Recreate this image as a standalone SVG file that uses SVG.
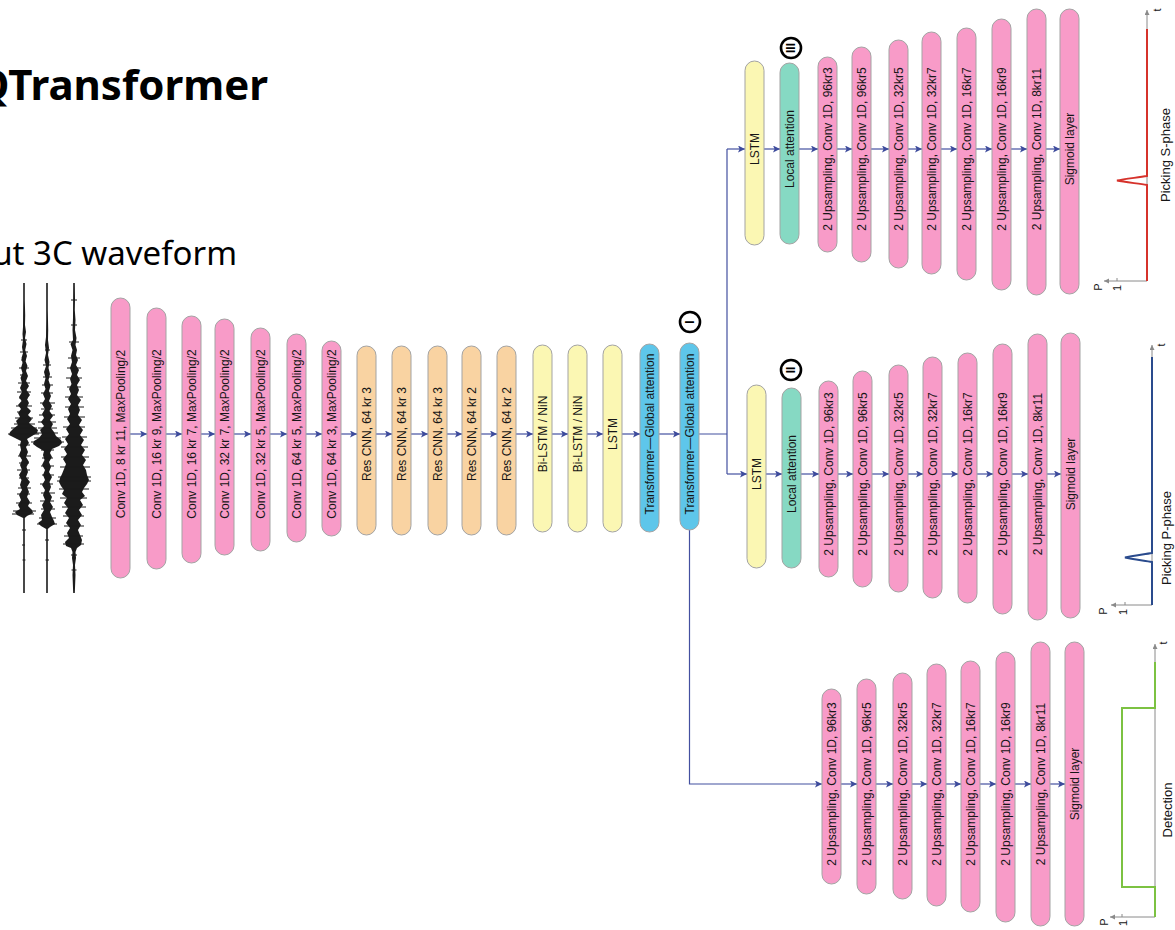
<svg xmlns="http://www.w3.org/2000/svg" width="1175" height="930" viewBox="0 0 1175 930">
  <defs>
    <marker id="arr" markerUnits="userSpaceOnUse" markerWidth="8" markerHeight="8" refX="7" refY="3.5" orient="auto">
      <path d="M0,0 L7,3.5 L0,7 L1.6,3.5 z" fill="#3d4b9c"/>
    </marker>
    <marker id="garr" markerUnits="userSpaceOnUse" markerWidth="6" markerHeight="6" refX="5" refY="2.5" orient="auto">
      <path d="M0,0 L5,2.5 L0,5 z" fill="#8a8a8a"/>
    </marker>
  </defs>
  <style>
    .pill{stroke:#a3a3a3;stroke-width:1}
    .pink{fill:#f89bc8}
    .peach{fill:#f9d3a2}
    .yellow{fill:#fbf7b3}
    .blue{fill:#5ec6ea}
    .teal{fill:#86d9c3}
    .lbl{font-family:"Liberation Sans",Arial,sans-serif;font-size:12px;fill:#161616;text-anchor:middle;dominant-baseline:central}
    .cap{font-family:"Liberation Sans",Arial,sans-serif;font-size:13px;fill:#161616;text-anchor:middle;dominant-baseline:central}
    .ax{font-family:"Liberation Sans",Arial,sans-serif;font-size:11px;fill:#161616;text-anchor:middle;dominant-baseline:central}
    .conn{fill:none;stroke:#4350a0;stroke-width:1.2}
    .axis{fill:none;stroke:#8a8a8a;stroke-width:1}
    .ring{fill:#fff;stroke:#000;stroke-width:2.6}
    .roman{font-family:"Liberation Sans",Arial,sans-serif;font-size:12px;font-weight:bold;fill:#000;text-anchor:middle;dominant-baseline:central}
    .wave{fill:#1b1b1b}
    .spk{fill:none;stroke:#1b1b1b;stroke-width:1}
  </style>

  <rect width="1175" height="930" fill="#fff"/>

  <!-- title and input caption -->
  <g id="title">
    <text x="268" y="100" font-family="'Noto Sans',sans-serif" font-weight="700" font-size="42" text-anchor="end" fill="#000">EQTransformer</text>
    <text x="237" y="265" font-family="'Noto Sans',sans-serif" font-size="33" text-anchor="end" fill="#000">Input 3C waveform</text>
  </g>

  <!-- three-component seismogram: envelope bodies plus amplitude spikes -->
  <g id="waveform">
    <path class="wave" d="M24.8,283 L24.8,300 L25.2,315 L25,325 L26,332 L25,338 L26.5,344 L25.2,350 L27,356 L25.5,361 L27.5,366 L26,371 L28,376 L26,381 L29,386 L26.5,390 L30,395 L27,399 L29,403 L27,407 L31,411 L28,415 L32,419 L29,423 L34,427 L38,430 L37,433 L32,436 L27,439 L29,443 L26,447 L28,452 L26,457 L29,462 L26.5,467 L28,472 L26,477 L30,482 L27,487 L29,492 L27,497 L30,502 L28,506 L32,510 L33,513 L27,516 L24.8,518 L24.8,593 L23.2,593 L23.2,518 L17,515 L15,512 L20,509 L18,505 L21,500 L19,495 L22,490 L20,485 L21.5,480 L19,475 L22,470 L20,465 L22,460 L19,455 L21,450 L20,445 L21,441 L15,438 L9,435 L10,432 L13,429 L18,425 L16,421 L20,417 L18,413 L21,409 L18,405 L21.5,401 L19,397 L22,392 L20,388 L22,383 L20.5,378 L22.5,373 L21,368 L22.5,363 L21.5,358 L23,353 L22,347 L23,340 L22.5,334 L23,327 L23.2,300 L23.2,283 Z"/>
    <path class="spk" d="M21,340H27M20,352H28M21,360H26M19,368H29M20,375H27M18,383H30M17,392H31M19,398H28M16,406H32M17,412H30M15,418H33M14,424H35M11,428H37M8,434H39M18,445H30M18,456H31M19,463H29M17,470H30M19,478H29M18,488H31M17,494H30M16,503H32M13,511H36M12,514H34M22,530H26M22,545H25M22.5,560H25.5"/>
    <path class="wave" d="M47.8,283 L47.8,310 L48.2,330 L48,340 L49,348 L48,355 L49.5,362 L48.5,368 L50,374 L48.5,380 L50.5,386 L49,391 L51,396 L49,401 L52,406 L49.5,411 L53,416 L50,420 L53,424 L51,428 L54,432 L56,436 L61,440 L62,443 L59,446 L52,449 L50,453 L52,457 L49,462 L51,467 L49,472 L52,477 L49.5,482 L51,487 L49,492 L52,497 L50,502 L53,507 L50,512 L52,517 L54,521 L55,524 L50,527 L47.8,529 L47.8,593 L46.2,593 L46.2,529 L41,526 L38,523 L42,520 L41,515 L44,510 L42,505 L45,500 L43,495 L45,490 L42,485 L45,480 L43,475 L45,470 L42,465 L44.5,460 L43,455 L44,451 L37,447 L33,444 L34,441 L39,438 L42,434 L40,430 L44,426 L41,422 L44,418 L42,414 L45,409 L42,404 L45,399 L43,394 L45.5,389 L44,384 L45.5,378 L44,372 L46,366 L44.5,360 L46,353 L45,345 L46,337 L46.2,320 L46.2,283 Z"/>
    <path class="spk" d="M45,350H50M43,365H51M43,377H52M42,385H53M41,393H53M40,403H55M41,409H53M39,415H55M38,422H56M38,428H57M36,433H58M34,438H61M31,442H64M41,450H54M42,458H53M41,466H54M42,475H54M40,484H53M41,493H55M40,501H54M41,509H55M39,518H56M37,524H57M45,540H49M45.5,560H49"/>
    <path class="wave" d="M74.8,283 L75,300 L74.8,310 L75.5,320 L75,330 L76.5,338 L75.5,345 L77,350 L76,355 L78,360 L76,365 L79,370 L77,375 L80,380 L77,385 L79,390 L77,395 L81,400 L78,405 L80,410 L78,415 L82,420 L79,425 L83,430 L80,435 L84,440 L81,445 L85,450 L82,455 L86,460 L83,465 L86,470 L87,475 L89,480 L87,484 L84,488 L82,492 L85,496 L80,500 L83,505 L79,510 L82,515 L78,520 L81,525 L78,530 L80,535 L82,540 L81,545 L77,548 L75.5,552 L76,558 L75,565 L75.5,575 L74.8,593 L73.2,593 L72.5,575 L73,565 L72,558 L72.5,552 L71,548 L66,546 L65,542 L69,538 L67,533 L70,528 L66,523 L69,518 L65,513 L68,508 L64,503 L67,498 L62,494 L64,490 L61,486 L59,482 L60,478 L62,474 L64,469 L66,464 L63,459 L67,454 L64,449 L68,444 L65,439 L69,434 L66,429 L70,424 L67,419 L70,414 L68,409 L71,404 L68,399 L71,394 L69,389 L71.5,384 L70,379 L72,374 L70,368 L72,362 L71,356 L72.5,350 L70.5,344 L73,340 L72.5,330 L73,318 L73.2,283 Z"/>
    <path class="spk" d="M71,300H77M71,325H77M69,342H79M68,358H80M67,368H81M66,378H82M67,387H81M65,397H83M65,407H84M64,417H85M63,427H85M62,437H87M61,447H88M61,457H89M60,467H90M58,477H91M57,481H91M59,489H89M60,498H87M62,507H86M63,516H84M64,526H84M64,536H83M63,544H84M71,555H77M71.5,570H76.5"/>
  </g>

  <!-- connectors -->
  <g id="connectors">
    <g class="conn" marker-end="url(#arr)">
      <path d="M130,434 H147"/>
      <path d="M166,434 H182"/>
      <path d="M201,434 H215"/>
      <path d="M234,434 H251"/>
      <path d="M270,434 H287"/>
      <path d="M306,434 H322"/>
      <path d="M341,434 H357"/>
      <path d="M376,434 H392"/>
      <path d="M411,434 H428"/>
      <path d="M447,434 H462"/>
      <path d="M481,434 H497"/>
      <path d="M516,434 H533"/>
      <path d="M552,434 H568"/>
      <path d="M587,434 H603"/>
      <path d="M622,434 H640"/>
      <path d="M659,434 H680"/>
      <!-- branch feeds -->
      <path d="M727,149 H745"/>
      <path d="M727,474 H747"/>
      <path d="M689.5,530 V784 H822"/>
      <!-- S-phase decoder -->
      <path d="M764,149 H780"/>
      <path d="M799,149 H818"/>
      <path d="M837,149 H852"/>
      <path d="M871,149 H889"/>
      <path d="M908,149 H922"/>
      <path d="M941,149 H957"/>
      <path d="M976,149 H992"/>
      <path d="M1011,149 H1027"/>
      <path d="M1046,149 H1060"/>
      <!-- P-phase decoder -->
      <path d="M766,474 H782"/>
      <path d="M801,474 H819"/>
      <path d="M838,474 H853"/>
      <path d="M872,474 H889"/>
      <path d="M908,474 H923"/>
      <path d="M942,474 H958"/>
      <path d="M977,474 H993"/>
      <path d="M1012,474 H1028"/>
      <path d="M1047,474 H1061"/>
      <!-- detection decoder -->
      <path d="M841,784 H857"/>
      <path d="M876,784 H893"/>
      <path d="M912,784 H927"/>
      <path d="M946,784 H961"/>
      <path d="M980,784 H996"/>
      <path d="M1015,784 H1031"/>
      <path d="M1050,784 H1065"/>
    </g>
    <path class="conn" d="M699,434 H727 M727,149 V474"/>
  </g>

  <!-- encoder -->
  <g id="enc-conv1"><rect class="pill pink" x="111" y="298" width="19" height="280" rx="9.5"/><text class="lbl" transform="translate(120.5,434) rotate(-90)">Conv 1D, 8 kr 11, MaxPooling/2</text></g>
  <g id="enc-conv2"><rect class="pill pink" x="147" y="308" width="19" height="261" rx="9.5"/><text class="lbl" transform="translate(156.5,434) rotate(-90)">Conv 1D, 16 kr 9, MaxPooling/2</text></g>
  <g id="enc-conv3"><rect class="pill pink" x="182" y="316" width="19" height="247" rx="9.5"/><text class="lbl" transform="translate(191.5,434) rotate(-90)">Conv 1D, 16 kr 7, MaxPooling/2</text></g>
  <g id="enc-conv4"><rect class="pill pink" x="215" y="319" width="19" height="236" rx="9.5"/><text class="lbl" transform="translate(224.5,434) rotate(-90)">Conv 1D, 32 kr 7, MaxPooling/2</text></g>
  <g id="enc-conv5"><rect class="pill pink" x="251" y="328" width="19" height="223" rx="9.5"/><text class="lbl" transform="translate(260.5,434) rotate(-90)">Conv 1D, 32 kr 5, MaxPooling/2</text></g>
  <g id="enc-conv6"><rect class="pill pink" x="287" y="334" width="19" height="208" rx="9.5"/><text class="lbl" transform="translate(296.5,434) rotate(-90)">Conv 1D, 64 kr 5, MaxPooling/2</text></g>
  <g id="enc-conv7"><rect class="pill pink" x="322" y="341" width="19" height="195" rx="9.5"/><text class="lbl" transform="translate(331.5,434) rotate(-90)">Conv 1D, 64 kr 3, MaxPooling/2</text></g>
  <g id="res1"><rect class="pill peach" x="357" y="346" width="19" height="189" rx="9.5"/><text class="lbl" transform="translate(366.5,434) rotate(-90)">Res CNN, 64 kr 3</text></g>
  <g id="res2"><rect class="pill peach" x="392" y="346" width="19" height="189" rx="9.5"/><text class="lbl" transform="translate(401.5,434) rotate(-90)">Res CNN, 64 kr 3</text></g>
  <g id="res3"><rect class="pill peach" x="428" y="346" width="19" height="189" rx="9.5"/><text class="lbl" transform="translate(437.5,434) rotate(-90)">Res CNN, 64 kr 3</text></g>
  <g id="res4"><rect class="pill peach" x="462" y="346" width="19" height="189" rx="9.5"/><text class="lbl" transform="translate(471.5,434) rotate(-90)">Res CNN, 64 kr 2</text></g>
  <g id="res5"><rect class="pill peach" x="497" y="346" width="19" height="189" rx="9.5"/><text class="lbl" transform="translate(506.5,434) rotate(-90)">Res CNN, 64 kr 2</text></g>
  <g id="bilstm1"><rect class="pill yellow" x="533" y="345" width="19" height="187" rx="9.5"/><text class="lbl" transform="translate(542.5,434) rotate(-90)">Bi-LSTM / NiN</text></g>
  <g id="bilstm2"><rect class="pill yellow" x="568" y="345" width="19" height="187" rx="9.5"/><text class="lbl" transform="translate(577.5,434) rotate(-90)">Bi-LSTM / NiN</text></g>
  <g id="lstm-enc"><rect class="pill yellow" x="603" y="345" width="19" height="187" rx="9.5"/><text class="lbl" transform="translate(612.5,434) rotate(-90)">LSTM</text></g>
  <g id="transformer1"><rect class="pill blue" x="640" y="344" width="19" height="188" rx="9.5"/><text class="lbl" transform="translate(649.5,434) rotate(-90)">Transformer—Global attention</text></g>
  <g id="transformer2"><rect class="pill blue" x="680" y="343" width="19" height="187" rx="9.5"/><text class="lbl" transform="translate(689.5,434) rotate(-90)">Transformer—Global attention</text>
    <circle class="ring" cx="690" cy="322" r="10"/><text class="roman" transform="translate(690,322) rotate(-90)">I</text></g>

  <!-- S-phase decoder -->
  <g id="s-lstm"><rect class="pill yellow" x="745" y="61" width="19" height="184" rx="9.5"/><text class="lbl" transform="translate(754.5,149) rotate(-90)">LSTM</text></g>
  <g id="s-attn"><rect class="pill teal" x="780" y="63" width="19" height="181" rx="9.5"/><text class="lbl" transform="translate(789.5,149) rotate(-90)">Local attention</text>
    <circle class="ring" cx="791" cy="48" r="10"/><text class="roman" transform="translate(791,48) rotate(-90)">III</text></g>
  <g id="s-up1"><rect class="pill pink" x="818" y="57" width="19" height="195" rx="9.5"/><text class="lbl" transform="translate(827.5,149) rotate(-90)">2 Upsampling, Conv 1D, 96kr3</text></g>
  <g id="s-up2"><rect class="pill pink" x="852" y="47" width="19" height="215" rx="9.5"/><text class="lbl" transform="translate(861.5,149) rotate(-90)">2 Upsampling, Conv 1D, 96kr5</text></g>
  <g id="s-up3"><rect class="pill pink" x="889" y="40" width="19" height="228" rx="9.5"/><text class="lbl" transform="translate(898.5,149) rotate(-90)">2 Upsampling, Conv 1D, 32kr5</text></g>
  <g id="s-up4"><rect class="pill pink" x="922" y="32" width="19" height="242" rx="9.5"/><text class="lbl" transform="translate(931.5,149) rotate(-90)">2 Upsampling, Conv 1D, 32kr7</text></g>
  <g id="s-up5"><rect class="pill pink" x="957" y="28" width="19" height="252" rx="9.5"/><text class="lbl" transform="translate(966.5,149) rotate(-90)">2 Upsampling, Conv 1D, 16kr7</text></g>
  <g id="s-up6"><rect class="pill pink" x="992" y="19" width="19" height="271" rx="9.5"/><text class="lbl" transform="translate(1001.5,149) rotate(-90)">2 Upsampling, Conv 1D, 16kr9</text></g>
  <g id="s-up7"><rect class="pill pink" x="1027" y="9" width="19" height="286" rx="9.5"/><text class="lbl" transform="translate(1036.5,149) rotate(-90)">2 Upsampling, Conv 1D, 8kr11</text></g>
  <g id="s-sigmoid"><rect class="pill pink" x="1060" y="9" width="19" height="285" rx="9.5"/><text class="lbl" transform="translate(1069.5,149) rotate(-90)">Sigmoid layer</text></g>

  <!-- P-phase decoder -->
  <g id="p-lstm"><rect class="pill yellow" x="747" y="385" width="19" height="183" rx="9.5"/><text class="lbl" transform="translate(756.5,474) rotate(-90)">LSTM</text></g>
  <g id="p-attn"><rect class="pill teal" x="782" y="388" width="19" height="180" rx="9.5"/><text class="lbl" transform="translate(791.5,474) rotate(-90)">Local attention</text>
    <circle class="ring" cx="791" cy="370" r="10"/><text class="roman" transform="translate(791,370) rotate(-90)">II</text></g>
  <g id="p-up1"><rect class="pill pink" x="819" y="381" width="19" height="196" rx="9.5"/><text class="lbl" transform="translate(828.5,474) rotate(-90)">2 Upsampling, Conv 1D, 96kr3</text></g>
  <g id="p-up2"><rect class="pill pink" x="853" y="371" width="19" height="216" rx="9.5"/><text class="lbl" transform="translate(862.5,474) rotate(-90)">2 Upsampling, Conv 1D, 96kr5</text></g>
  <g id="p-up3"><rect class="pill pink" x="889" y="365" width="19" height="227" rx="9.5"/><text class="lbl" transform="translate(898.5,474) rotate(-90)">2 Upsampling, Conv 1D, 32kr5</text></g>
  <g id="p-up4"><rect class="pill pink" x="923" y="357" width="19" height="241" rx="9.5"/><text class="lbl" transform="translate(932.5,474) rotate(-90)">2 Upsampling, Conv 1D, 32kr7</text></g>
  <g id="p-up5"><rect class="pill pink" x="958" y="353" width="19" height="250" rx="9.5"/><text class="lbl" transform="translate(967.5,474) rotate(-90)">2 Upsampling, Conv 1D, 16kr7</text></g>
  <g id="p-up6"><rect class="pill pink" x="993" y="344" width="19" height="270" rx="9.5"/><text class="lbl" transform="translate(1002.5,474) rotate(-90)">2 Upsampling, Conv 1D, 16kr9</text></g>
  <g id="p-up7"><rect class="pill pink" x="1028" y="334" width="19" height="286" rx="9.5"/><text class="lbl" transform="translate(1037.5,474) rotate(-90)">2 Upsampling, Conv 1D, 8kr11</text></g>
  <g id="p-sigmoid"><rect class="pill pink" x="1061" y="333" width="19" height="285" rx="9.5"/><text class="lbl" transform="translate(1070.5,474) rotate(-90)">Sigmoid layer</text></g>

  <!-- detection decoder -->
  <g id="d-up1"><rect class="pill pink" x="822" y="689" width="19" height="195" rx="9.5"/><text class="lbl" transform="translate(831.5,784) rotate(-90)">2 Upsampling, Conv 1D, 96kr3</text></g>
  <g id="d-up2"><rect class="pill pink" x="857" y="679" width="19" height="215" rx="9.5"/><text class="lbl" transform="translate(866.5,784) rotate(-90)">2 Upsampling, Conv 1D, 96kr5</text></g>
  <g id="d-up3"><rect class="pill pink" x="893" y="673" width="19" height="226" rx="9.5"/><text class="lbl" transform="translate(902.5,784) rotate(-90)">2 Upsampling, Conv 1D, 32kr5</text></g>
  <g id="d-up4"><rect class="pill pink" x="927" y="664" width="19" height="242" rx="9.5"/><text class="lbl" transform="translate(936.5,784) rotate(-90)">2 Upsampling, Conv 1D, 32kr7</text></g>
  <g id="d-up5"><rect class="pill pink" x="961" y="661" width="19" height="251" rx="9.5"/><text class="lbl" transform="translate(970.5,784) rotate(-90)">2 Upsampling, Conv 1D, 16kr7</text></g>
  <g id="d-up6"><rect class="pill pink" x="996" y="652" width="19" height="270" rx="9.5"/><text class="lbl" transform="translate(1005.5,784) rotate(-90)">2 Upsampling, Conv 1D, 16kr9</text></g>
  <g id="d-up7"><rect class="pill pink" x="1031" y="642" width="19" height="284" rx="9.5"/><text class="lbl" transform="translate(1040.5,784) rotate(-90)">2 Upsampling, Conv 1D, 8kr11</text></g>
  <g id="d-sigmoid"><rect class="pill pink" x="1065" y="642" width="19" height="284" rx="9.5"/><text class="lbl" transform="translate(1074.5,784) rotate(-90)">Sigmoid layer</text></g>

  <!-- output: S-phase probability -->
  <g id="out-s">
    <path class="axis" d="M1147,281 V10" marker-end="url(#garr)"/>
    <path class="axis" d="M1147,281 H1104" marker-end="url(#garr)"/>
    <path class="axis" d="M1117,278 V281"/>
    <path d="M1147,281 V185 C1138,183.5 1124,182 1117,180.5 C1124,179 1138,177.5 1147,176 V29" fill="none" stroke="#d6322b" stroke-width="2"/>
    <text class="ax" transform="translate(1157,10) rotate(-90)">t</text>
    <text class="ax" transform="translate(1098,287) rotate(-90)">P</text>
    <text class="ax" transform="translate(1117,288) rotate(-90)">1</text>
    <text class="cap" transform="translate(1165,155) rotate(-90)">Picking S-phase</text>
  </g>

  <!-- output: P-phase probability -->
  <g id="out-p">
    <path class="axis" d="M1152,605 V345" marker-end="url(#garr)"/>
    <path class="axis" d="M1152,605 H1111" marker-end="url(#garr)"/>
    <path class="axis" d="M1125,602 V605"/>
    <path d="M1152,605 V562 C1143,560.5 1131,559 1125,557.5 C1131,556 1143,554.5 1152,553 V357" fill="none" stroke="#2a4b8d" stroke-width="2"/>
    <text class="ax" transform="translate(1161,345) rotate(-90)">t</text>
    <text class="ax" transform="translate(1103,611) rotate(-90)">P</text>
    <text class="ax" transform="translate(1123,612) rotate(-90)">1</text>
    <text class="cap" transform="translate(1166,538) rotate(-90)">Picking P-phase</text>
  </g>

  <!-- output: detection probability -->
  <g id="out-d">
    <path class="axis" d="M1155,917 V644" marker-end="url(#garr)"/>
    <path class="axis" d="M1155,917 H1110" marker-end="url(#garr)"/>
    <path class="axis" d="M1122,914 V917"/>
    <path d="M1155,917 V887 H1122 V708 H1155 V662" fill="none" stroke="#7cc242" stroke-width="2"/>
    <text class="ax" transform="translate(1163,643) rotate(-90)">t</text>
    <text class="ax" transform="translate(1104,922) rotate(-90)">P</text>
    <text class="ax" transform="translate(1123,923) rotate(-90)">1</text>
    <text class="cap" transform="translate(1167,810) rotate(-90)">Detection</text>
  </g>
</svg>
